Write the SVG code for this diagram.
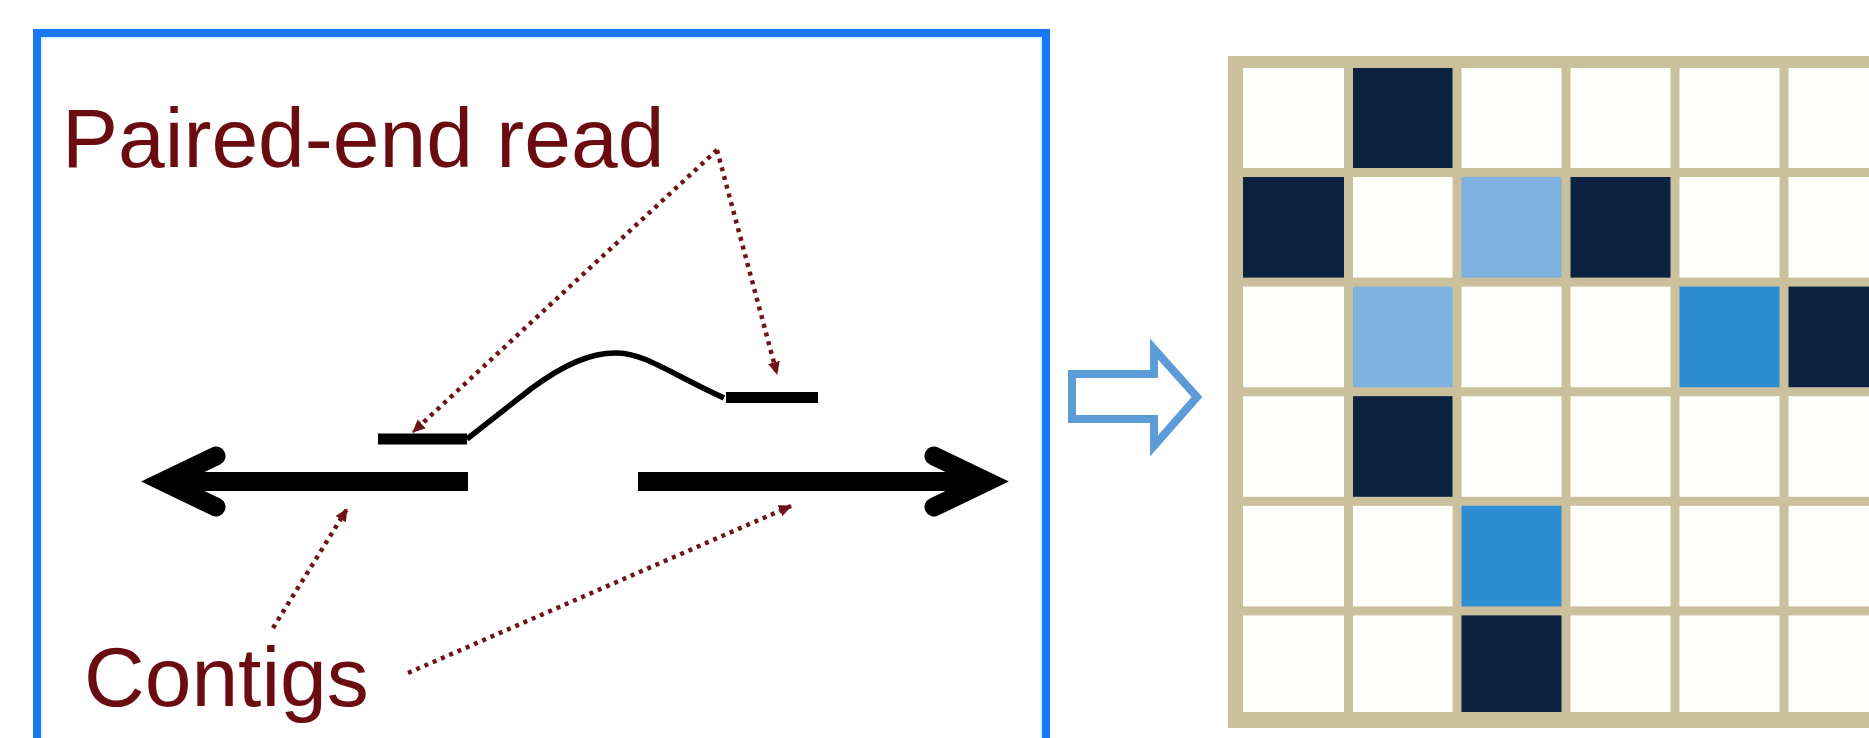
<svg xmlns="http://www.w3.org/2000/svg" width="1869" height="738" viewBox="0 0 1869 738">
  <style>
    .label { font-family: "Liberation Sans", Arial, sans-serif; font-size: 84px; fill: #6a0c10; }
    .bar { fill: #000000; }
    .head { fill: none; stroke: #000000; stroke-width: 19; stroke-linejoin: miter; stroke-miterlimit: 10; stroke-linecap: round; }
    .read { fill: none; stroke: #000000; stroke-width: 5.5; stroke-linejoin: round; stroke-linecap: butt; }
    .pointer { fill: none; stroke: #6e1418; stroke-width: 4.5; stroke-dasharray: 4 5; }
    .grid-line { fill: #cac09b; }
    .cell { fill: #fffffc; }
    .dark { fill: #0b2240; }
    .light { fill: #7db2e0; }
    .mid { fill: #2c8dd2; }
  </style>
  <defs>
    <marker id="dot-tip" markerUnits="userSpaceOnUse" markerWidth="16" markerHeight="16" refX="12" refY="6" orient="auto">
      <path d="M0,0 L13,6 L0,12 Z" fill="#6e1418"/>
    </marker>
  </defs>

  <rect width="1869" height="738" fill="#ffffff"/>

  <!-- framed panel on the left -->
  <g id="panel">
    <rect x="37" y="33" width="1009" height="730" fill="#ffffff" stroke="#1877f2" stroke-width="8"/>
    <rect x="42" y="38" width="999" height="720" fill="none" stroke="#d8f6ff" stroke-width="2"/>
  </g>

  <g id="label-paired">
    <text class="label" x="62" y="167">Paired-end read</text>
  </g>
  <g id="label-contigs">
    <text class="label" x="84" y="706">Contigs</text>
  </g>

  <!-- contig pointing left -->
  <g id="contig-left">
    <rect class="bar" x="168" y="472" width="300" height="19"/>
    <polyline class="head" points="216,456 163,481.5 216,507"/>
  </g>

  <!-- contig pointing right -->
  <g id="contig-right">
    <rect class="bar" x="638" y="472" width="345" height="19"/>
    <polyline class="head" points="934,456 987,481.5 934,507"/>
  </g>

  <!-- read pair joined by the insert -->
  <g id="read-pair">
    <rect class="bar" x="378" y="433.5" width="89" height="11"/>
    <rect class="bar" x="726" y="392" width="92" height="11"/>
    <path class="read" d="M467,439 L532,388 C565,364 592,352 618,353 C645,354 668,372 724,398"/>
  </g>

  <!-- hollow transition arrow -->
  <g id="transition-arrow">
    <polygon points="1072,374 1154,374 1154,349 1197,397 1154,446 1154,419 1072,419" fill="#ffffff" stroke="#5b9bd8" stroke-width="8" stroke-linejoin="miter"/>
  </g>

  <!-- dotted pointers -->
  <g id="connectors">
    <line class="pointer" x1="717" y1="150" x2="413" y2="432" marker-end="url(#dot-tip)"/>
    <line class="pointer" x1="717" y1="150" x2="777" y2="374" marker-end="url(#dot-tip)"/>
    <line class="pointer" x1="273" y1="628" x2="347" y2="509" marker-end="url(#dot-tip)"/>
    <line class="pointer" x1="408" y1="673" x2="791" y2="506" marker-end="url(#dot-tip)"/>
  </g>

  <!-- contact matrix -->
  <g id="matrix">
    <rect class="grid-line" x="1228" y="56" width="660" height="672"/>
    <!-- row 0 -->
    <rect class="cell" x="1243" y="68" width="101" height="100"/>
    <rect class="dark" x="1353" y="68" width="99.5" height="100"/>
    <rect class="cell" x="1461.5" y="68" width="100" height="100"/>
    <rect class="cell" x="1570.5" y="68" width="100" height="100"/>
    <rect class="cell" x="1679.5" y="68" width="100" height="100"/>
    <rect class="cell" x="1788.5" y="68" width="100" height="100"/>
    <!-- row 1 -->
    <rect class="dark" x="1243" y="177" width="101" height="100.6"/>
    <rect class="cell" x="1353" y="177" width="99.5" height="100.6"/>
    <rect class="light" x="1461.5" y="177" width="100" height="100.6"/>
    <rect class="dark" x="1570.5" y="177" width="100" height="100.6"/>
    <rect class="cell" x="1679.5" y="177" width="100" height="100.6"/>
    <rect class="cell" x="1788.5" y="177" width="100" height="100.6"/>
    <!-- row 2 -->
    <rect class="cell" x="1243" y="286.6" width="101" height="100.6"/>
    <rect class="light" x="1353" y="286.6" width="99.5" height="100.6"/>
    <rect class="cell" x="1461.5" y="286.6" width="100" height="100.6"/>
    <rect class="cell" x="1570.5" y="286.6" width="100" height="100.6"/>
    <rect class="mid" x="1679.5" y="286.6" width="100" height="100.6"/>
    <rect class="dark" x="1788.5" y="286.6" width="100" height="100.6"/>
    <!-- row 3 -->
    <rect class="cell" x="1243" y="396.2" width="101" height="100.6"/>
    <rect class="dark" x="1353" y="396.2" width="99.5" height="100.6"/>
    <rect class="cell" x="1461.5" y="396.2" width="100" height="100.6"/>
    <rect class="cell" x="1570.5" y="396.2" width="100" height="100.6"/>
    <rect class="cell" x="1679.5" y="396.2" width="100" height="100.6"/>
    <rect class="cell" x="1788.5" y="396.2" width="100" height="100.6"/>
    <!-- row 4 -->
    <rect class="cell" x="1243" y="505.8" width="101" height="100.6"/>
    <rect class="cell" x="1353" y="505.8" width="99.5" height="100.6"/>
    <rect class="mid" x="1461.5" y="505.8" width="100" height="100.6"/>
    <rect class="cell" x="1570.5" y="505.8" width="100" height="100.6"/>
    <rect class="cell" x="1679.5" y="505.8" width="100" height="100.6"/>
    <rect class="cell" x="1788.5" y="505.8" width="100" height="100.6"/>
    <!-- row 5 -->
    <rect class="cell" x="1243" y="615.4" width="101" height="96.6"/>
    <rect class="cell" x="1353" y="615.4" width="99.5" height="96.6"/>
    <rect class="dark" x="1461.5" y="615.4" width="100" height="96.6"/>
    <rect class="cell" x="1570.5" y="615.4" width="100" height="96.6"/>
    <rect class="cell" x="1679.5" y="615.4" width="100" height="96.6"/>
    <rect class="cell" x="1788.5" y="615.4" width="100" height="96.6"/>
  </g>
</svg>
